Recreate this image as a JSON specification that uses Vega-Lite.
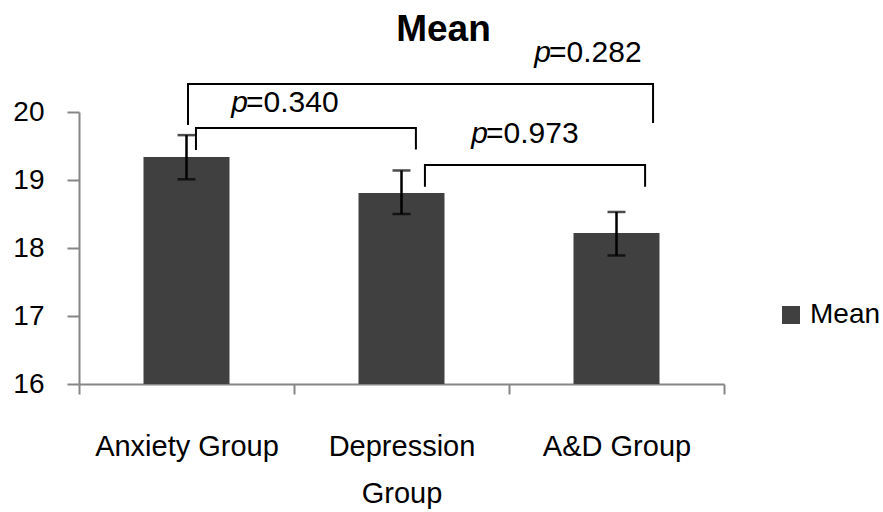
{
  "$schema": "https://vega.github.io/schema/vega-lite/v6.json",
  "autosize": {"type": "none"},
  "padding": {"left": 79, "top": 112, "right": 159, "bottom": 128},
  "width": 645,
  "height": 272,
  "background": "white",
  "config": {
    "view": {"stroke": null},
    "font": "Liberation Sans",
    "axis": {"grid": false, "labelColor": "black", "labelFont": "Liberation Sans"}
  },
  "title": {
    "text": "Mean",
    "font": "Liberation Sans",
    "fontSize": 37,
    "fontWeight": "bold",
    "color": "black",
    "anchor": "middle",
    "frame": "group",
    "dx": 42,
    "baseline": "alphabetic",
    "offset": 0,
    "dy": 40
  },
  "datasets": {
    "bars": [
      {"group": "Anxiety Group", "mean": 19.34, "lo": 19.01, "hi": 19.66},
      {"group": "Depression Group", "mean": 18.81, "lo": 18.5, "hi": 19.14},
      {"group": "A&D Group", "mean": 18.22, "lo": 17.89, "hi": 18.53}
    ],
    "brackets": [
      {"id": "b282", "o": 1, "bx": 0.507, "by": 19.81},
      {"id": "b282", "o": 2, "bx": 0.507, "by": 20.41},
      {"id": "b282", "o": 3, "bx": 2.67, "by": 20.41},
      {"id": "b282", "o": 4, "bx": 2.67, "by": 19.84},
      {"id": "b340", "o": 1, "bx": 0.544, "by": 19.44},
      {"id": "b340", "o": 2, "bx": 0.544, "by": 19.765},
      {"id": "b340", "o": 3, "bx": 1.567, "by": 19.765},
      {"id": "b340", "o": 4, "bx": 1.567, "by": 19.45},
      {"id": "b973", "o": 1, "bx": 1.609, "by": 18.9},
      {"id": "b973", "o": 2, "bx": 1.609, "by": 19.22},
      {"id": "b973", "o": 3, "bx": 2.633, "by": 19.22},
      {"id": "b973", "o": 4, "bx": 2.633, "by": 18.9}
    ],
    "pvals": [
      {"tx": 0.777, "ty": 20.0, "val": "=0.340"},
      {"tx": 1.893, "ty": 19.544, "val": "=0.973"},
      {"tx": 2.186, "ty": 20.735, "val": "=0.282"}
    ]
  },
  "layer": [
    {
      "data": {"name": "bars"},
      "layer": [
        {
          "mark": {"type": "bar", "width": {"band": 0.4}},
          "encoding": {
            "x": {
              "field": "group", "type": "nominal", "sort": null,
              "scale": {"paddingInner": 0, "paddingOuter": 0},
              "axis": {
                "title": null, "labelAngle": 0, "tickBand": "extent",
                "labelFontSize": 29, "labelPadding": 38, "tickSize": 10, "labelLimit": 400,
                "domainColor": "#868686", "domainWidth": 2, "tickColor": "#868686", "tickWidth": 2,
                "labelLineHeight": 47,
                "labelExpr": "datum.label == 'Depression Group' ? ['Depression', 'Group'] : datum.label"
              }
            },
            "y": {
              "field": "mean", "type": "quantitative",
              "scale": {"domain": [16, 20], "zero": false, "nice": false},
              "axis": {
                "title": null, "values": [16, 17, 18, 19, 20], "format": "d",
                "labelFontSize": 28, "labelPadding": 23, "tickSize": 12,
                "domainColor": "#868686", "domainWidth": 2, "tickColor": "#868686", "tickWidth": 2
              }
            },
            "y2": {"datum": 16},
            "color": {
              "datum": "Mean",
              "scale": {"range": ["#404040"]},
              "legend": {
                "title": null, "orient": "none", "legendX": 698, "legendY": 189,
                "symbolType": "square", "symbolSize": 324, "symbolStrokeWidth": 0,
                "labelFontSize": 28, "labelFont": "Liberation Sans", "labelColor": "black",
                "labelOffset": 5, "padding": 0
              }
            }
          }
        },
        {
          "mark": {
            "type": "errorbar",
            "ticks": {"size": 18, "thickness": 2.5, "color": "black"},
            "rule": {"strokeWidth": 2.5, "color": "black"}
          },
          "encoding": {
            "x": {"field": "group", "type": "nominal", "sort": null},
            "y": {"field": "lo", "type": "quantitative"},
            "y2": {"field": "hi"}
          }
        }
      ]
    },
    {
      "layer": [
        {
          "data": {"name": "brackets"},
          "mark": {"type": "line", "color": "black", "strokeWidth": 2, "strokeJoin": "miter", "strokeCap": "butt"},
          "encoding": {
            "x": {"field": "bx", "type": "quantitative", "scale": {"domain": [0, 3], "nice": false, "zero": false}, "axis": null},
            "y": {"field": "by", "type": "quantitative"},
            "detail": {"field": "id"},
            "order": {"field": "o"}
          }
        },
        {
          "data": {"name": "pvals"},
          "mark": {"type": "text", "align": "left", "baseline": "alphabetic", "fontSize": 30, "font": "Liberation Sans", "color": "black"},
          "encoding": {
            "x": {"field": "tx", "type": "quantitative"},
            "y": {"field": "ty", "type": "quantitative"},
            "text": {"field": "val"}
          }
        },
        {
          "data": {"name": "pvals"},
          "mark": {"type": "text", "align": "right", "baseline": "alphabetic", "fontSize": 30, "font": "Liberation Sans", "fontStyle": "italic", "color": "black", "dx": 2},
          "encoding": {
            "x": {"field": "tx", "type": "quantitative"},
            "y": {"field": "ty", "type": "quantitative"},
            "text": {"value": "p"}
          }
        }
      ]
    }
  ],
  "resolve": {"scale": {"x": "independent"}}
}
